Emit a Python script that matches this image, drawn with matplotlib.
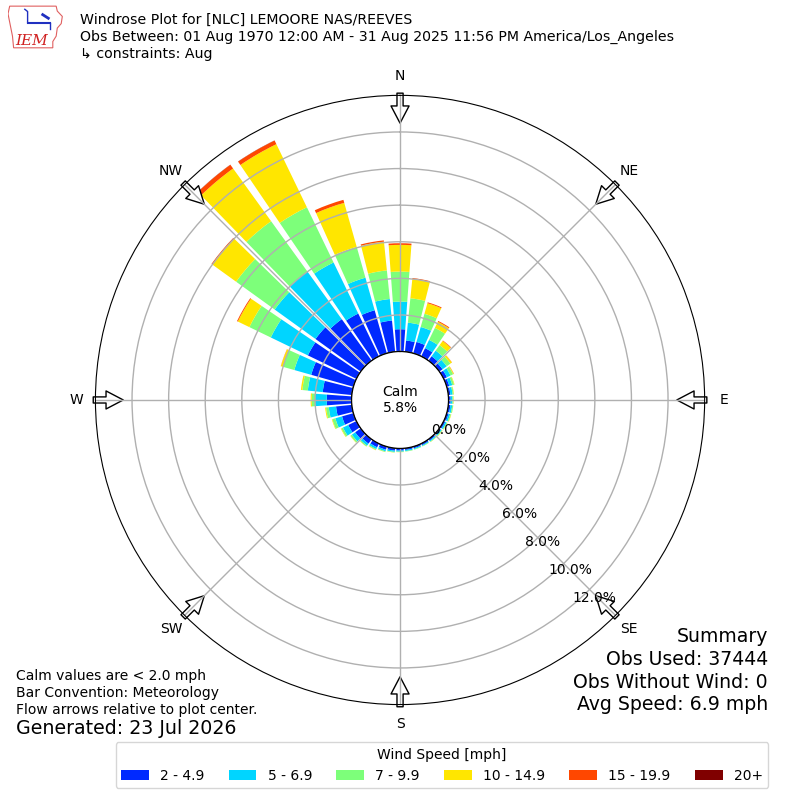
import matplotlib.pyplot as plt
import numpy as np
from matplotlib.patches import Polygon

# wind directions (deg, meteorological) and speed bins
directions = np.arange(0, 360, 10)
speed_bins = ['2 - 4.9', '5 - 6.9', '7 - 9.9', '10 - 14.9', '15 - 19.9', '20+']

# frequency (%) per direction for each speed bin
spd_2_5 = [1.22, 0.62, 0.65, 0.50, 0.30, 0.22, 0.20, 0.15, 0.12, 0.12, 0.12, 0.11,
           0.10, 0.10, 0.10, 0.10, 0.10, 0.10, 0.12, 0.14, 0.18, 0.23, 0.30, 0.38,
           0.50, 0.65, 0.87, 1.36, 1.60, 2.40, 2.95, 3.05, 2.80, 2.60, 2.45, 1.72]
spd_5_7 = [1.51, 0.98, 0.85, 0.50, 0.38, 0.28, 0.22, 0.17, 0.12, 0.10, 0.10, 0.09,
           0.08, 0.07, 0.06, 0.05, 0.05, 0.06, 0.06, 0.07, 0.09, 0.11, 0.13, 0.22,
           0.32, 0.38, 0.40, 0.64, 0.82, 0.96, 2.25, 2.75, 3.20, 3.10, 1.85, 1.18]
spd_7_10 = [1.64, 1.34, 0.75, 0.73, 0.37, 0.25, 0.16, 0.10, 0.06, 0.05, 0.05, 0.05,
            0.04, 0.03, 0.03, 0.03, 0.03, 0.03, 0.02, 0.03, 0.04, 0.05, 0.06, 0.09,
            0.10, 0.17, 0.15, 0.18, 0.30, 0.64, 1.30, 2.60, 3.40, 3.35, 1.75, 1.57]
spd_10_15 = [1.46, 1.06, 0.60, 0.37, 0.28, 0.10, 0.04, 0.03, 0.02, 0.02, 0.01, 0.02,
             0.02, 0.02, 0.01, 0.00, 0.00, 0.00, 0.01, 0.01, 0.01, 0.02, 0.01, 0.02,
             0.03, 0.03, 0.05, 0.06, 0.08, 0.12, 0.70, 1.60, 3.55, 3.83, 2.50, 1.58]
spd_15_20 = [0.09, 0.05, 0.05, 0.05, 0.03, 0.01, 0.01, 0.00, 0.00, 0.00, 0.00, 0.00,
             0.00, 0.00, 0.00, 0.00, 0.00, 0.00, 0.00, 0.00, 0.00, 0.00, 0.00, 0.00,
             0.00, 0.00, 0.00, 0.00, 0.00, 0.01, 0.05, 0.06, 0.25, 0.22, 0.17, 0.07]
spd_20p = [0.00, 0.00, 0.00, 0.00, 0.00, 0.00, 0.00, 0.00, 0.00, 0.00, 0.00, 0.00,
           0.00, 0.00, 0.00, 0.00, 0.00, 0.00, 0.00, 0.00, 0.00, 0.00, 0.00, 0.00,
           0.00, 0.00, 0.00, 0.00, 0.00, 0.00, 0.00, 0.00, 0.01, 0.01, 0.00, 0.00]
calm_pct = 5.8

rticks = [0, 2, 4, 6, 8, 10, 12]
compass = ['N', 'NE', 'E', 'SE', 'S', 'SW', 'W', 'NW']

fig = plt.figure(figsize=(8, 8), dpi=100)
ax = fig.add_axes([0.1193, 0.1193, 0.7615, 0.7615], projection='polar')
ax.set_theta_zero_location('N')
ax.set_theta_direction(-1)

colors = plt.get_cmap('jet')(np.linspace(0, 1, 7)[1:])
theta = np.deg2rad(directions)
bottom = np.zeros(len(directions))
for vals, lab, c in zip([spd_2_5, spd_5_7, spd_7_10, spd_10_15, spd_15_20, spd_20p],
                        speed_bins, colors):
    ax.bar(theta, vals, width=np.deg2rad(8.4), bottom=bottom, color=c,
           label=lab, linewidth=0)
    bottom += np.array(vals)

ax.set_ylim(0, 14)
ax.set_rorigin(-2.645)
ax.set_yticks(rticks)
ax.set_yticklabels(['%.1f%%' % v for v in rticks])
ax.set_rlabel_position(140)
ax.set_thetagrids(range(0, 360, 45), compass)
ax.tick_params(axis='x', pad=7, labelsize=10, length=0)
ax.tick_params(axis='y', labelsize=10)
ax.grid(True, color='#b0b0b0', lw=1)

# calm circle
tt = np.linspace(0, 2 * np.pi, 300)
ax.plot(tt, np.zeros_like(tt), color='k', lw=1)
ax.text(0.5, 0.5, 'Calm\n%.1f%%' % calm_pct, transform=ax.transAxes,
        ha='center', va='center', fontsize=10)

# flow arrows (under the grid lines, as in the original)
for a in range(0, 360, 45):
    t = np.deg2rad(a)
    ax.annotate('', xy=(t, 12.48), xytext=(t, 14.12), annotation_clip=False,
                arrowprops=dict(arrowstyle='simple,head_length=0.62,head_width=0.65,tail_width=0.22',
                                mutation_scale=20, fc='white', ec='k', lw=1,
                                shrinkA=0, shrinkB=0), zorder=1.2)

# header
fig.text(0.1, 0.975, 'Windrose Plot for [NLC] LEMOORE NAS/REEVES', fontsize=10.2, va='center')
fig.text(0.1, 0.954, 'Obs Between: 01 Aug 1970 12:00 AM - 31 Aug 2025 11:56 PM America/Los_Angeles',
         fontsize=10.2, va='center')
fig.text(0.1, 0.9325, '\u21b3 constraints: Aug', fontsize=10.2, va='center')

# logo
lax = fig.add_axes([0.01, 0.938, 0.07, 0.056])
lax.set_xlim(0, 1)
lax.set_ylim(0, 1)
lax.axis('off')
iowa = [(0.03, 0.97), (0.86, 0.97), (0.88, 0.86), (0.97, 0.74), (0.95, 0.58), (0.88, 0.48),
        (0.86, 0.3), (0.8, 0.18), (0.8, 0.04), (0.1, 0.04), (0.08, 0.3), (0.04, 0.55), (0.0, 0.8)]
lax.add_patch(Polygon(iowa, closed=True, fill=False, ec='#e06060', lw=0.8))
lax.plot([0.35, 0.75], [0.6, 0.6], color='#2030c0', lw=1.5)
lax.plot([0.35, 0.35, 0.3], [0.6, 0.85, 0.9], color='#2030c0', lw=1)
lax.plot([0.75, 0.75], [0.6, 0.45], color='#2030c0', lw=1)
lax.plot([0.62, 0.72], [0.78, 0.7], color='#2030c0', lw=2)
lax.text(0.42, 0.2, 'IEM', color='#d02020', fontsize=11, style='italic',
         family='DejaVu Serif', ha='center', va='center')

# notes
fig.text(0.02, 0.155, 'Calm values are < 2.0 mph', fontsize=10, va='center')
fig.text(0.02, 0.134, 'Bar Convention: Meteorology', fontsize=10, va='center')
fig.text(0.02, 0.1125, 'Flow arrows relative to plot center.', fontsize=10, va='center')
fig.text(0.02, 0.089, 'Generated: 23 Jul 2026', fontsize=13.7, va='center')

fig.text(0.96, 0.205, 'Summary', fontsize=13.6, ha='right', va='center')
fig.text(0.96, 0.176, 'Obs Used: 37444', fontsize=13.6, ha='right', va='center')
fig.text(0.96, 0.1475, 'Obs Without Wind: 0', fontsize=13.6, ha='right', va='center')
fig.text(0.96, 0.119, 'Avg Speed: 6.9 mph', fontsize=13.6, ha='right', va='center')

fig.legend(loc='lower center', bbox_to_anchor=(0.5525, 0.006), ncol=6,
           title='Wind Speed [mph]', fontsize=10, title_fontsize=10, columnspacing=1.75)

fig.savefig('out.png', dpi=100)
